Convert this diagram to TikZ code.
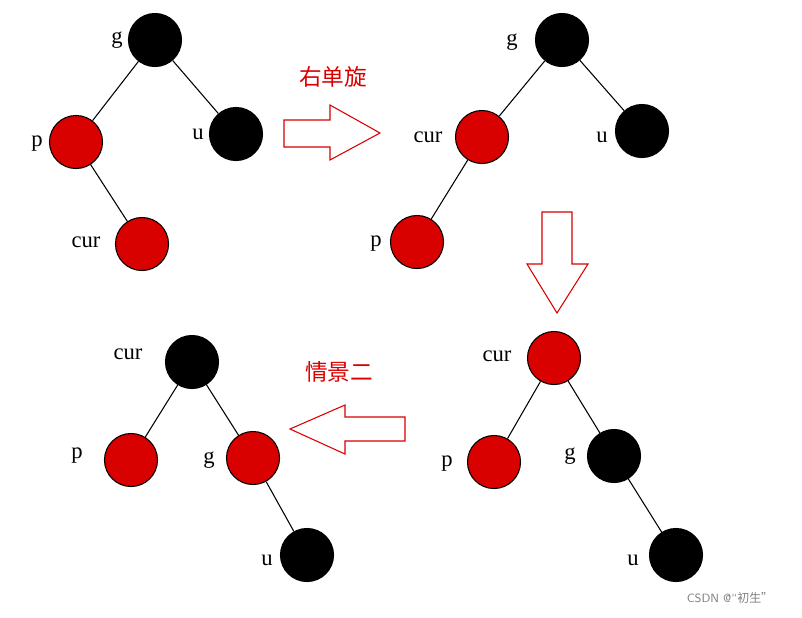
\documentclass[tikz,border=0pt]{standalone}
\usepackage{fontspec}
\setmainfont{Liberation Serif}
\newfontfamily\cjk{Noto Sans CJK SC}
\tikzset{
    rnode/.style={circle, draw, thick, fill=red!85!black, minimum size=1.4cm, inner sep=0pt}, % 红色结点
    bnode/.style={circle, draw, thick, fill=black, minimum size=1.4cm, inner sep=0pt}, % 黑色结点
    lab/.style={font=\fontsize{17}{20}\selectfont},
    blockarrow/.style={draw=red!85!black, thick, fill=white}
}
\begin{document}
\begin{tikzpicture}[x=0.0264cm, y=-0.0264cm]
    \useasboundingbox (0,0) rectangle (802,617);

    % 第一棵树
    \node[bnode] (g1) at (155,40) {};
    \node[rnode] (p1) at (76,142) {};
    \node[bnode] (u1) at (236,134) {};
    \node[rnode] (c1) at (142,244) {};
    \draw[thick] (g1) -- (p1); \draw[thick] (g1) -- (u1); \draw[thick] (p1) -- (c1);
    \node[lab] at (117,40) {g}; \node[lab] at (37,144) {p};
    \node[lab] at (198,134) {u}; \node[lab] at (86,242) {cur};

    % 右单旋
    \draw[blockarrow] (284,120) -- (330,120) -- (330,105) -- (380,133) -- (330,160) -- (330,147) -- (284,147) -- cycle;
    \node[lab, red!85!black] at (333,77) {\cjk 右单旋};

    % 第二棵树
    \node[bnode] (g2) at (562,40) {};
    \node[rnode] (c2) at (482,137) {};
    \node[bnode] (u2) at (642,131) {};
    \node[rnode] (p2) at (417,242) {};
    \draw[thick] (g2) -- (c2); \draw[thick] (g2) -- (u2); \draw[thick] (c2) -- (p2);
    \node[lab] at (512,42) {g}; \node[lab] at (428,137) {cur};
    \node[lab] at (602,137) {u}; \node[lab] at (376,244) {p};

    % 向下
    \draw[blockarrow] (542,212) -- (572,212) -- (572,264) -- (588,264) -- (557,313) -- (527,264) -- (542,264) -- cycle;

    % 第三棵树
    \node[rnode] (c3) at (554,358) {};
    \node[rnode] (p3) at (494,462) {};
    \node[bnode] (g3) at (614,456) {};
    \node[bnode] (u3) at (676,555) {};
    \draw[thick] (c3) -- (p3); \draw[thick] (c3) -- (g3); \draw[thick] (g3) -- (u3);
    \node[lab] at (497,356) {cur}; \node[lab] at (447,464) {p};
    \node[lab] at (570,456) {g}; \node[lab] at (633,560) {u};

    % 情景二
    \draw[blockarrow] (405,417) -- (345,417) -- (345,405) -- (290,429) -- (345,454) -- (345,441) -- (405,441) -- cycle;
    \node[lab, red!85!black] at (339,372) {\cjk 情景二};

    % 第四棵树
    \node[bnode] (c4) at (192,362) {};
    \node[rnode] (p4) at (131,460) {};
    \node[rnode] (g4) at (253,458) {};
    \node[bnode] (u4) at (307,555) {};
    \draw[thick] (c4) -- (p4); \draw[thick] (c4) -- (g4); \draw[thick] (g4) -- (u4);
    \node[lab] at (128,354) {cur}; \node[lab] at (77,456) {p};
    \node[lab] at (209,460) {g}; \node[lab] at (267,560) {u};

    \node[gray, font=\sffamily\small] at (730,598) {CSDN @“\cjk 初生”};
\end{tikzpicture}
\end{document}
